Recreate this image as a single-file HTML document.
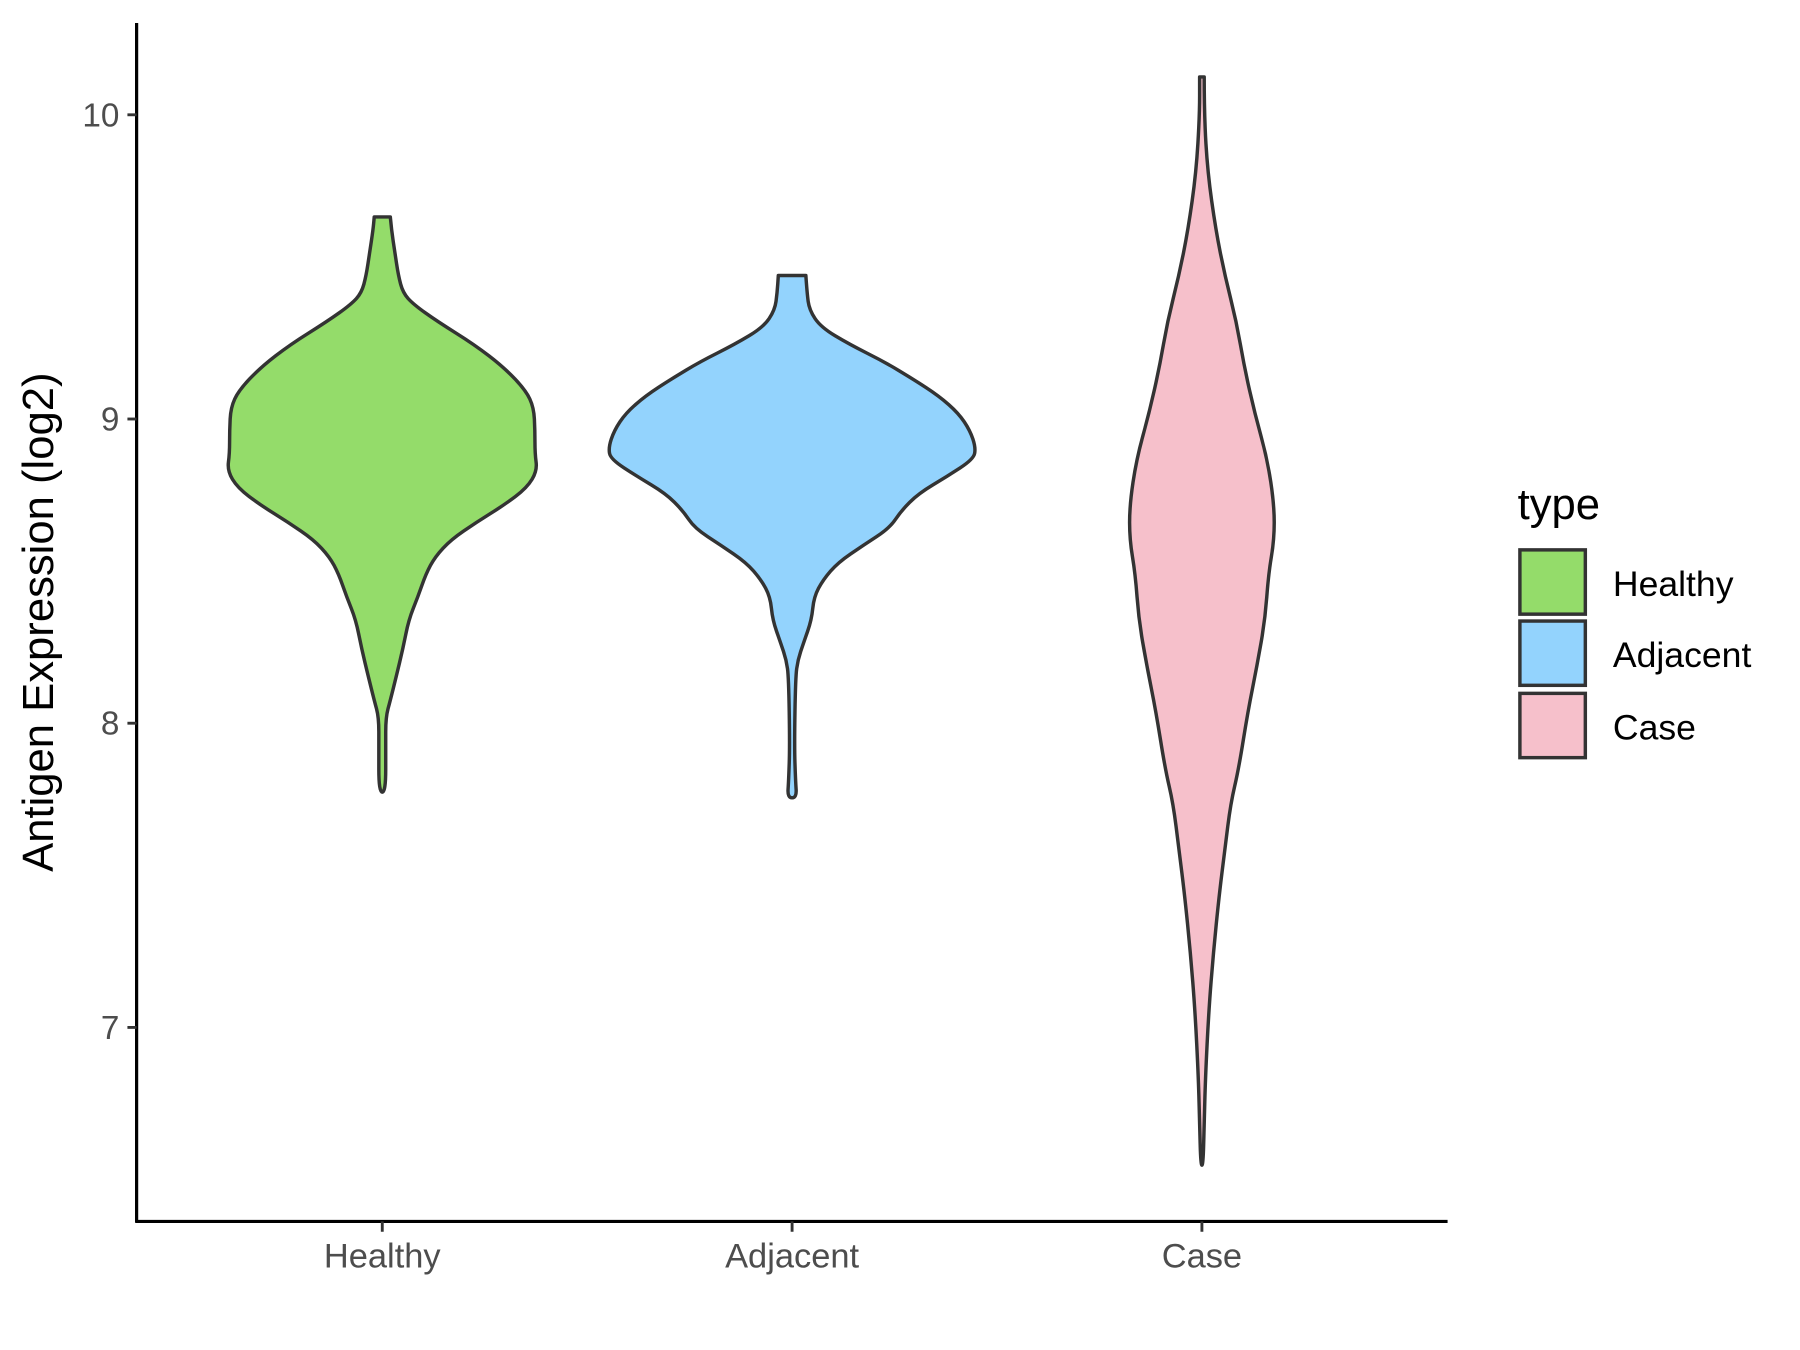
<!DOCTYPE html>
<html><head><meta charset="utf-8"><style>html,body{margin:0;padding:0;background:#fff}svg{display:block}</style></head>
<body>
<svg id="s" width="1800" height="1350" viewBox="0 0 1568 1176" xmlns="http://www.w3.org/2000/svg" font-family="Liberation Sans, sans-serif">
<rect width="1568" height="1176" fill="#fff"/>
<g id="v"></g>
<line x1="119" y1="20" x2="119" y2="1065" stroke="#000" stroke-width="2.8"/>
<line x1="118" y1="1064" x2="1261" y2="1064" stroke="#000" stroke-width="2.8"/>
<g stroke="#333" stroke-width="2.5">
<line x1="111" y1="100" x2="119" y2="100"/><line x1="111" y1="365" x2="119" y2="365"/>
<line x1="111" y1="630" x2="119" y2="630"/><line x1="111" y1="895" x2="119" y2="895"/>
<line x1="333" y1="1064" x2="333" y2="1073"/><line x1="690" y1="1064" x2="690" y2="1073"/><line x1="1047" y1="1064" x2="1047" y2="1073"/>
</g>
<g fill="#4d4d4d" font-size="29" text-anchor="end">
<text x="104" y="110">10</text><text x="104" y="375">9</text><text x="104" y="640">8</text><text x="104" y="905">7</text>
</g>
<g fill="#4d4d4d" font-size="30" text-anchor="middle">
<text x="333" y="1104">Healthy</text><text x="690" y="1104">Adjacent</text><text x="1047" y="1104">Case</text>
</g>
<text transform="translate(46,542) rotate(-90)" font-size="38" text-anchor="middle" fill="#000">Antigen Expression (log2)</text>
<text x="1322" y="452" font-size="38" fill="#000">type</text>
<g stroke="#333" stroke-width="3">
<rect x="1324" y="479" width="57" height="56" fill="#94DC6A"/>
<rect x="1324" y="541" width="57" height="56" fill="#93D3FD"/>
<rect x="1324" y="604" width="57" height="56" fill="#F6C0CB"/>
</g>
<g font-size="31" fill="#000">
<text x="1405" y="519">Healthy</text><text x="1405" y="581">Adjacent</text><text x="1405" y="644">Case</text>
</g>
</svg>
<script>
var data=[
[333,"#94DC6A",[[189,7],[200,8],[220,11],[240,14],[255,18],[265,27],[280,48],[300,80],[320,106],[340,125],[355,132],[375,133],[395,133],[410,135],[425,126],[440,106],[455,82],[470,60],[485,46],[500,38],[520,31],[540,23],[565,18],[590,12],[610,7],[625,3],[650,3],[690,3]]],
[690,"#93D3FD",[[240,12],[255,13],[270,15],[285,25],[300,50],[315,80],[330,105],[345,128],[360,145],[375,155],[390,160],[400,158],[415,135],[430,110],[445,95],[460,85],[475,62],[490,40],[505,27],[520,19],[540,17],[560,10],[575,5],[590,3],[650,2],[680,3],[695,4]]],
[1047,"#F6C0CB",[[67,2],[100,2],[150,5],[200,12],[240,20],[280,30],[320,37],[360,46],[400,57],[440,63],[470,63],[500,58],[540,55],[580,48],[620,40],[670,32],[700,25],[740,20],[780,15],[830,10],[880,6],[940,3],[980,2],[1015,1]]]
];
var g=document.getElementById('v'),ns="http://www.w3.org/2000/svg";
data.forEach(function(d){
 var cx=d[0],p=d[2],pts=[];
 p.forEach(function(q){pts.push([cx+q[1],q[0]]);});
 for(var i=p.length-1;i>=0;i--)pts.push([cx-p[i][1],p[i][0]]);
 var s="M"+pts[0][0]+","+pts[0][1];
 for(var i=1;i<pts.length-1;i++){var mx=(pts[i][0]+pts[i+1][0])/2,my=(pts[i][1]+pts[i+1][1])/2;s+=" Q"+pts[i][0]+","+pts[i][1]+" "+mx+","+my;}
 s+=" L"+pts[pts.length-1][0]+","+pts[pts.length-1][1]+" Z";
 var e=document.createElementNS(ns,"path");e.setAttribute("d",s);e.setAttribute("fill",d[1]);e.setAttribute("stroke","#333");e.setAttribute("stroke-width","3");e.setAttribute("stroke-linejoin","round");g.appendChild(e);
});
</script>
</body></html>
